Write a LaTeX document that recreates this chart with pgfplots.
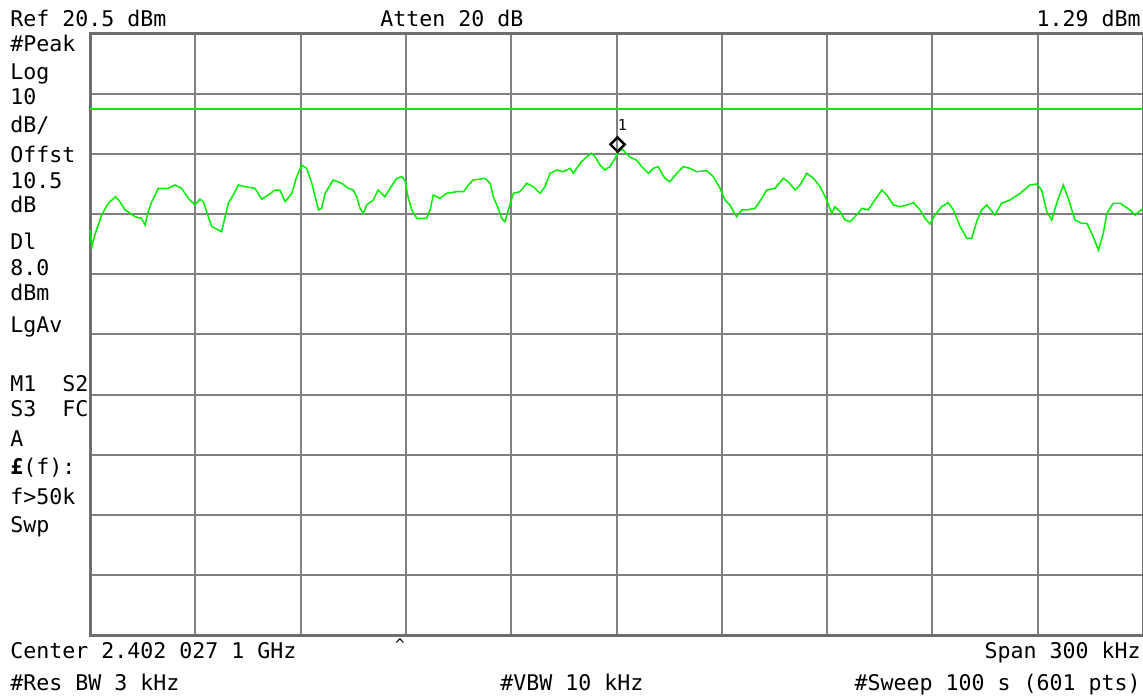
\documentclass[border=0pt]{standalone}
\usepackage{fontspec}
\setmainfont{DejaVu Sans Mono}
\usepackage{pgfplots}
\pgfplotsset{compat=1.18}
\definecolor{gridgray}{RGB}{128,128,128}
\definecolor{bordergray}{RGB}{110,110,110}
\definecolor{trace}{RGB}{0,240,0}
\pgfplotstableread{
f dbm
-150.0 -12.11
-149.5 -14.90
-148.6 -12.90
-146.7 -9.62
-144.8 -7.67
-142.7 -6.57
-141.5 -7.40
-140.0 -8.78
-138.6 -9.28
-137.2 -9.90
-135.3 -10.17
-134.3 -11.28
-133.4 -9.07
-132.4 -7.40
-130.5 -5.17
-127.7 -5.17
-125.8 -4.62
-123.9 -5.17
-122.0 -6.84
-120.1 -7.95
-118.7 -7.00
-117.7 -7.40
-116.3 -9.90
-115.3 -11.56
-113.4 -12.11
-112.5 -12.40
-111.5 -9.90
-110.6 -7.67
-109.2 -6.29
-107.7 -4.62
-105.8 -4.91
-103.0 -5.17
-101.1 -7.00
-99.2 -6.29
-97.3 -5.46
-95.9 -5.46
-94.4 -7.40
-92.5 -6.01
-91.1 -3.24
-89.7 -1.30
-88.3 -1.85
-86.8 -4.34
-84.9 -8.78
-84.0 -8.50
-83.0 -6.01
-80.7 -3.79
-78.3 -4.34
-76.4 -5.17
-75.0 -5.46
-74.0 -6.57
-73.1 -8.50
-72.1 -9.33
-71.2 -7.95
-69.3 -7.12
-67.9 -5.46
-66.0 -6.57
-64.5 -5.17
-62.6 -3.51
-61.2 -3.24
-60.3 -3.79
-59.3 -6.84
-58.3 -8.78
-56.9 -10.17
-54.1 -10.17
-53.1 -8.78
-52.2 -6.29
-50.3 -6.84
-48.4 -6.01
-45.5 -5.74
-43.6 -5.74
-42.2 -4.62
-40.8 -3.79
-37.5 -3.51
-36.0 -4.34
-35.1 -6.57
-33.7 -8.50
-32.7 -10.17
-31.8 -10.73
-30.8 -8.78
-29.4 -6.01
-27.5 -5.74
-25.6 -4.34
-23.7 -4.91
-21.8 -6.01
-20.4 -4.91
-18.9 -2.68
-17.0 -2.13
-15.2 -2.41
-13.2 -1.85
-12.3 -2.68
-10.4 -1.01
-8.5 0.08
-7.1 0.65
-6.1 0.08
-4.7 -1.30
-3.3 -2.13
-1.9 -1.58
-0.4 -0.18
0.5 0.92
1.7 1.29
3.8 0.02
5.8 -0.52
7.2 -1.58
9.1 -2.68
10.5 -1.85
11.9 -1.58
12.9 -2.68
13.8 -3.51
15.2 -4.08
17.2 -2.68
19.0 -1.58
20.9 -1.85
22.8 -2.41
25.7 -2.25
27.6 -3.24
29.5 -5.17
30.9 -7.12
32.3 -7.95
34.2 -9.90
35.7 -8.78
37.1 -8.78
39.5 -8.50
41.4 -6.84
42.8 -5.46
45.2 -5.17
47.5 -3.51
48.9 -4.08
50.9 -5.46
52.3 -4.62
54.2 -2.68
56.1 -3.51
58.0 -4.91
59.9 -7.12
61.3 -9.33
62.2 -8.23
63.7 -9.07
65.1 -10.45
66.5 -10.73
68.4 -9.62
69.9 -8.50
71.7 -8.78
73.6 -7.12
75.6 -5.46
77.0 -6.29
78.9 -7.95
80.8 -8.24
82.7 -7.95
84.6 -7.57
86.5 -8.78
87.9 -10.17
89.3 -11.11
90.7 -9.62
92.6 -8.24
94.5 -7.57
96.0 -8.78
97.9 -11.56
99.8 -13.49
101.2 -13.49
102.6 -10.73
104.0 -8.78
105.5 -7.95
107.8 -9.62
109.7 -7.67
112.1 -7.12
115.0 -6.01
117.8 -4.62
119.7 -4.46
121.1 -5.46
122.6 -9.07
124.0 -10.45
125.4 -7.67
127.3 -4.62
128.7 -6.84
130.6 -10.45
132.5 -11.00
134.0 -11.00
135.4 -12.66
137.3 -15.44
138.7 -12.66
139.7 -9.33
141.5 -7.67
143.5 -7.67
146.3 -8.78
147.7 -9.62
150.0 -8.50
}\tracedata
\begin{document}
\begin{tikzpicture}
\useasboundingbox (0,0) rectangle (571.5pt,348.5pt);
\fill[white] (0,0) rectangle (571.5pt,348.5pt);
\begin{axis}[
  at={(45pt,31pt)}, anchor=south west,
  scale only axis, width=526.5pt, height=300.5pt,
  xmin=-150, xmax=150, ymin=-79.5, ymax=20.5,
  xtick={-150,-120,...,150},
  ytick={-79.5,-69.5,-59.5,-49.5,-39.5,-29.5,-19.5,-9.5,0.5,10.5,20.5},
  xticklabels={}, yticklabels={},
  major tick length=0pt,
  grid=major,
  major grid style={color=gridgray, line width=1pt},
  axis line style={color=bordergray, line width=1.5pt},
  clip=false,
]
\addplot[trace, line width=0.75pt] coordinates {(-150,8.0) (150,8.0)};
\addplot[trace, line width=0.75pt] table[x=f, y=dbm] {\tracedata};
\addplot[only marks, mark=square, mark size=2.5pt,
  mark options={rotate=45, draw=black, fill=white, line width=1.2pt, yshift=3.5pt}]
  coordinates {(1.7,1.29)};
\node[font=\fontsize{7.5}{8}\selectfont, inner sep=0pt, yshift=12pt] at (axis cs:1.7,1.29) {1};
\end{axis}
\begin{scope}[every node/.style={inner sep=0pt, font=\fontsize{10.8}{12}\selectfont}]
\node[anchor=base west] at (5pt,335pt) {Ref 20.5 dBm};
\node[anchor=base west] at (190pt,335pt) {Atten 20 dB};
\node[anchor=base east] at (570.5pt,335pt) {1.29 dBm};
\node[anchor=base west] at (5pt,322.5pt) {\#Peak};
\node[anchor=base west] at (5pt,308.5pt) {Log};
\node[anchor=base west] at (5pt,296pt) {10};
\node[anchor=base west] at (5pt,282pt) {dB/};
\node[anchor=base west] at (5pt,267pt) {Offst};
\node[anchor=base west] at (5pt,254pt) {10.5};
\node[anchor=base west] at (5pt,242pt) {dB};
\node[anchor=base west] at (5pt,224pt) {Dl};
\node[anchor=base west] at (5pt,211pt) {8.0};
\node[anchor=base west] at (5pt,198.5pt) {dBm};
\node[anchor=base west] at (5pt,182.5pt) {LgAv};
\node[anchor=base west] at (5pt,153pt) {M1~~S2};
\node[anchor=base west] at (5pt,140.5pt) {S3~~FC};
\node[anchor=base west] at (5pt,125.5pt) {A};
\node[anchor=base west] at (5pt,111.5pt) {\textbf{£}(f):};
\node[anchor=base west] at (5pt,96.5pt) {f>50k};
\node[anchor=base west] at (5pt,82.5pt) {Swp};
\node[anchor=base west] at (5pt,19.5pt) {Center 2.402 027 1 GHz};
\node[anchor=base east] at (570.5pt,19.5pt) {Span 300 kHz};
\node[anchor=base, font=\fontsize{8}{9}\selectfont] at (200pt,23.5pt) {\textasciicircum};
\node[anchor=base west] at (5pt,3.5pt) {\#Res BW 3 kHz};
\node[anchor=base west] at (250pt,3.5pt) {\#VBW 10 kHz};
\node[anchor=base east] at (570.5pt,3.5pt) {\#Sweep 100 s (601 pts)};
\end{scope}
\end{tikzpicture}
\end{document}
